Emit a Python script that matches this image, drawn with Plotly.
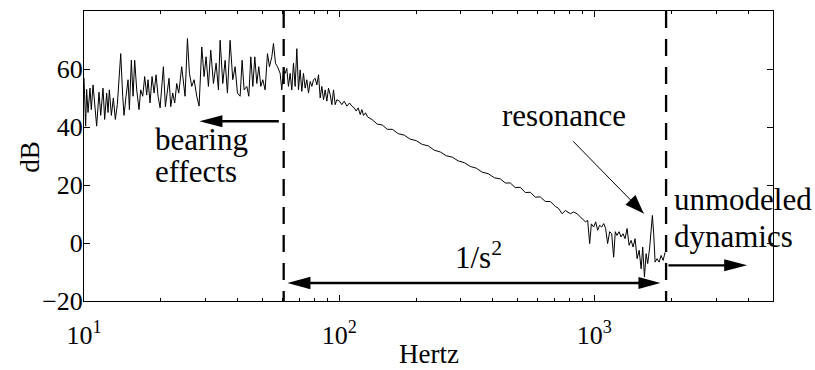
import numpy as np
import plotly.graph_objects as go

# ---------------- data ----------------
# 10 - 24 Hz
freq_a = [10.0, 10.15, 10.24, 10.37, 10.56, 10.68, 10.85, 11.01, 11.21, 11.45, 11.63, 11.87,
          12.05, 12.27, 12.42, 12.57, 12.80, 13.03, 13.27, 13.51, 13.72, 13.93, 14.18, 14.35,
          14.61, 14.88, 15.06, 15.33, 15.57, 15.80, 16.09, 16.43, 16.68, 16.99, 17.29, 17.61,
          17.82, 18.15, 18.48, 18.82, 19.16, 19.51, 19.87, 20.23, 20.47, 20.84, 21.22, 21.54,
          21.87, 22.27, 22.67, 23.09, 23.51]
db_a = [57, 40.3, 53, 45, 53.4, 46, 54.5, 47, 40.3, 52, 44, 53.4,
        42.6, 51.7, 45, 52.8, 44, 50, 42.6, 47.7, 55, 65.3, 50.6, 44,
        50.6, 56.3, 46, 63, 50.6, 63, 52.8, 46, 52.8, 50.6, 57.4, 51,
        56.3, 48.3, 57.4, 51.7, 58, 50.6, 46.6, 54, 60.8, 47, 52.8, 56.8,
        47, 51.7, 48.3, 55, 51.7]
# 24 - 57 Hz
freq_b = [24.15, 24.89, 25.43, 25.89, 26.44, 27.01, 27.66, 28.25, 28.94, 29.55, 30.09, 30.73,
          31.38, 32.16, 32.94, 33.64, 34.15, 34.98, 35.73, 36.48, 37.37, 38.28, 39.10, 39.93,
          40.91, 41.65, 42.41, 43.45, 44.24, 45.05, 45.87, 46.70, 47.55, 48.42, 49.30, 50.20,
          51.26, 52.36, 53.31, 54.45, 55.27, 56.28, 57.30]
db_b = [60.8, 50.6, 70.5, 58.5, 54, 56.3, 50.6, 47.2, 67.6, 57.4, 64.2, 54,
        66.5, 55, 62, 52.8, 69.9, 55, 63, 51.7, 69.9, 56.3, 60.8, 51.7,
        50.6, 63, 52.8, 54, 50.6, 64.2, 54, 64.2, 55, 60.8, 54, 56.3,
        52.8, 65.3, 60.8, 64.2, 68.8, 62, 60.8]
# 58 - 130 Hz
freq_c = [58.70, 59.59, 60.49, 61.40, 62.33, 63.27, 64.23, 65.21, 66.20, 67.20, 68.23, 69.26,
          70.31, 71.38, 72.46, 73.56, 74.68, 75.82, 76.97, 78.14, 79.32, 80.52, 81.75, 82.99,
          84.25, 85.51, 86.80, 88.13, 89.46, 90.82, 92.20, 93.59, 95.02, 96.45, 97.91, 100.3,
          102.4, 104.6, 107.2, 109.8, 112.1, 114.5, 116.6, 118.7, 120.9, 122.7, 124.5, 126.8,
          129.2]
db_c = [58.5, 52.8, 59.7, 58.5, 60.2, 54, 58.5, 52.8, 62, 54, 67, 52.8,
        59.7, 52.3, 58.5, 53.4, 56.3, 51.7, 55.7, 54, 56.3, 56.8, 54.5, 58,
        50, 54, 49.4, 52.8, 48.9, 53.4, 51.1, 47.7, 52.8, 47.7, 49.4, 48.9,
        47.7, 48.9, 47.2, 48.3, 47.2, 46.6, 45.5, 46.6, 44.3, 46, 44, 44.9,
        43.5]
# 135 - 725 Hz (the 1/s^2 roll-off)
freq_d = [134.7, 141.0, 147.5, 154.3, 161.4, 170.4, 179.8, 189.8, 200.4, 211.5, 223.3, 235.8,
          248.9, 262.7, 277.4, 292.9, 309.2, 326.4, 344.5, 363.7, 384.0, 405.4, 428.0, 447.7,
          468.4, 490.0, 512.6, 536.3, 561.1, 587.0, 614.1, 642.5, 672.2, 703.2, 722.5]
db_d = [42.5, 41.0, 40.7, 39.2, 39.2, 37.7, 37.2, 35.8, 35.3, 34.0, 33.5, 32.0,
        31.4, 30.1, 29.6, 28.3, 27.7, 26.4, 25.8, 24.4, 23.9, 22.5, 22.1, 20.7,
        20.7, 19.1, 19.2, 17.4, 17.5, 15.8, 15.9, 14.3, 14.3, 12.6, 12.0]
# 745 - 1900 Hz (noisy, resonance)
freq_e = [747.0, 769.6, 805.2, 829.5, 855.4, 894.9, 922.0, 941.3, 958.5, 973.3, 993.7, 1012,
          1030, 1049, 1068, 1088, 1107, 1127, 1148, 1169, 1190, 1208, 1227, 1249,
          1272, 1295, 1319, 1343, 1368, 1393, 1418, 1444, 1471, 1498, 1525, 1547,
          1571, 1595, 1618, 1648, 1669, 1688, 1708, 1730, 1761, 1794, 1826, 1860,
          1893]
db_e = [10.1, 11.2, 10.1, 10.7, 10.1, 8.4, 7.3, 7.8, -0.2, 6.6, 5.5, 7.3,
        4.4, 6.1, 5.5, 6.7, 5.0, -0.2, 3.9, 3.2, -4.9, 3.9, 2.6, 3.9,
        2.1, 3.2, 1.5, 5.0, -0.8, 0.9, -1.4, 1.5, -5.4, -2.5, -8.9, -1.4,
        -11.7, -3.7, -7.1, -1.4, 5.5, 9.5, 3.2, -6.6, -5.4, -6.6, -4.3, -6.0,
        -3.2]

x_major_ticks = [10, 100, 1000]
x_major_labels = ["10<sup>1</sup>", "10<sup>2</sup>", "10<sup>3</sup>"]
x_minor_ticks = [20, 30, 40, 50, 60, 70, 80, 90, 200, 300, 400, 500, 600, 700, 800, 900,
                 2000, 3000, 4000]
y_ticks = [-20, 0, 20, 40, 60]
y_tick_labels = ["\u221220", "0", "20", "40", "60"]

band_edges_hz = [60.6, 1910]
x_range_log = [1, 3.7]
y_range = [-20, 80]

FONT = "Liberation Serif"
BLACK = "black"

freq_hz = freq_a + freq_b + freq_c + freq_d + freq_e
mag_db = db_a + db_b + db_c + db_d + db_e

fig = go.Figure()
fig.add_trace(go.Scatter(x=freq_hz, y=mag_db, mode="lines",
                         line=dict(color=BLACK, width=1), hoverinfo="skip"))

for fe in band_edges_hz:
    fig.add_trace(go.Scatter(x=[fe, fe], y=[y_range[1], y_range[0]], mode="lines",
                             line=dict(color=BLACK, width=2.3, dash="17px,11px"),
                             hoverinfo="skip"))

PX_PER_DECADE = 255.0


def shift(f, px):
    return f * 10 ** (px / PX_PER_DECADE)


# arrow shafts: (from_hz, to_hz, from_db, to_db, width)
shafts = [
    (58.0, shift(28.33, 10), 42.0, 42.0, 2.4),
    (shift(62.7, 10), shift(1815, -10), -13.8, -13.8, 2.5),
    (1951, shift(3970, -10), -7.7, -7.7, 2.3),
    (825, 1561, 35.1, 10.2, 1),
]
for f0, f1, y0, y1, w in shafts:
    fig.add_trace(go.Scatter(x=[f0, f1], y=[y0, y1], mode="lines",
                             line=dict(color=BLACK, width=w), hoverinfo="skip"))


def head(f_tip, db_tip, dx, dy, length, half):
    n = np.hypot(dx, dy)
    ux, uy = dx / n, dy / n
    bx, by = -length * ux, -length * uy
    px, py = -uy * half, ux * half
    path = (f"M0,0 L{bx + px:.2f},{by + py:.2f} L{bx - px:.2f},{by - py:.2f} Z")
    return dict(type="path", xref="x", yref="y", xsizemode="pixel", ysizemode="pixel",
                xanchor=f_tip, yanchor=db_tip, path=path, fillcolor=BLACK,
                line=dict(width=0), layer="above")


shapes = [
    head(28.33, 42.0, -1, 0, 23, 6),
    head(62.7, -13.8, -1, 0, 23, 6.3),
    head(1815, -13.8, 1, 0, 22, 6),
    head(3970, -7.7, 1, 0, 23, 6),
    head(1561, 10.2, 0.699, -0.716, 19, 7),
]

ann_font = dict(family=FONT, size=31, color=BLACK)
texts = [
    ("bearing", 18.64, 35.8, "left"),
    ("effects", 18.64, 24.8, "left"),
    ("1/s<sup>2</sup>", 352, -4.2, "center"),
    ("resonance", 759.5, 44.1, "center"),
    ("unmodeled", 2017, 15.0, "left"),
    ("dynamics", 2017, 2.2, "left"),
]
annotations = [dict(text=t, x=np.log10(f), y=v, xref="x", yref="y", showarrow=False,
                    xanchor=a, yanchor="middle", font=ann_font) for t, f, v, a in texts]

title_font = dict(family=FONT, size=27, color=BLACK)
annotations.append(dict(text="Hertz", x=0.5, y=-0.2379, xref="paper", yref="paper",
                        showarrow=False, xanchor="center", yanchor="bottom", borderpad=0,
                        font=title_font))
annotations.append(dict(text="dB", x=-0.0784, y=0.4976, xref="paper", yref="paper",
                        showarrow=False, xanchor="center", yanchor="middle", textangle=-90,
                        font=title_font))

fig.update_layout(
    width=815, height=370,
    margin=dict(l=84, r=42, t=11, b=69),
    paper_bgcolor="white", plot_bgcolor="white",
    showlegend=False,
    font=dict(family=FONT, color=BLACK),
    shapes=shapes,
    annotations=annotations,
    xaxis=dict(
        type="log", range=x_range_log,
        tickmode="array", tickvals=x_major_ticks, ticktext=x_major_labels,
        ticks="inside", ticklen=6, tickwidth=1, tickcolor=BLACK,
        minor=dict(tickmode="array", tickvals=x_minor_ticks, ticks="inside",
                   ticklen=3, tickwidth=1, tickcolor=BLACK, showgrid=False),
        showline=True, linecolor=BLACK, linewidth=1, mirror="ticks",
        showgrid=False, zeroline=False,
        tickfont=dict(family=FONT, size=26, color=BLACK),
        ticklabelstandoff=11,
    ),
    yaxis=dict(
        range=y_range,
        tickmode="array", tickvals=y_ticks, ticktext=y_tick_labels,
        ticks="inside", ticklen=6, tickwidth=1, tickcolor=BLACK,
        showline=True, linecolor=BLACK, linewidth=1, mirror="ticks",
        showgrid=False, zeroline=False,
        tickfont=dict(family=FONT, size=26, color=BLACK),
        ticklabelstandoff=-5,
    ),
)

fig.write_html("out.html", config={"displayModeBar": False},
               post_script="document.body.style.margin='0';")
